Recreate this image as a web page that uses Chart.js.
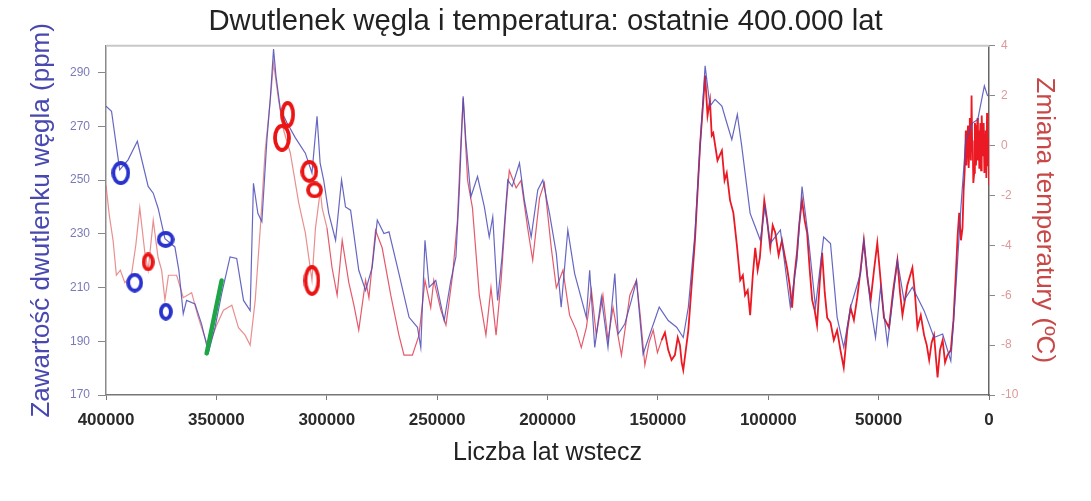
<!DOCTYPE html>
<html lang="pl">
<head>
<meta charset="UTF-8">
<title>Dwutlenek węgla i temperatura</title>
<script src="https://cdn.jsdelivr.net/npm/chart.js"></script>
<style>
  html, body { margin:0; padding:0; background:#fff; }
  #wrap { width:1091px; height:501px; }
</style>
</head>
<body>
<div id="wrap"><canvas id="chart" width="1091" height="501"></canvas></div>
<script>
// --- data (years before present) ---
const xTicks = [400000, 350000, 300000, 250000, 200000, 150000, 100000, 50000, 0];
const ppmTicks = [170, 190, 210, 230, 250, 270, 290];
const tempTicks = [-10, -8, -6, -4, -2, 0, 2, 4];

const co2Years = [400000,397500,393800,390000,385800,380900,378600,376400,373300,368800,367000,365000,363500,359700,356700,353600,350600,347600,343800,340800,337700,334700,333200,331200,329400,327100,325600,324100,323000,321000,318000,314200,309700,306700,304400,303000,301400,299100,296000,293300,291500,289200,285500,282400,279400,277100,274100,271800,267300,262700,258900,257400,255500,253600,250600,246800,243800,241500,240000,238200,237000,234700,231700,228600,226400,224800,222600,220600,218000,216000,212700,210500,207400,204400,202100,199100,196000,193800,190800,187700,182400,180900,178600,175600,172600,169500,168000,165000,162000,159700,156700,153600,149400,145300,141500,138500,136200,133200,130900,128600,126400,124100,121000,118800,116500,114000,112000,108200,105900,103600,101500,99100,94500,90000,87000,84700,81700,78600,74900,71800,68800,65800,62700,58200,56700,53600,51400,49100,46000,41500,38500,34700,29400,24900,21000,17300,15000,12700,10500,7400,5100,2100,600];
const co2Ppm = [277.5,275.6,253.8,257.5,264.4,247.6,245.1,239.5,228.2,225.1,216.4,200.2,205.2,203.9,196.4,185.8,195.2,207.7,221.4,220.8,205.2,201.4,248.8,237.6,234.5,265.0,280.0,298.7,288.7,276.2,271.3,265.7,260.0,252.6,273.7,256.3,250.0,237.6,227.6,250.0,240.0,238.8,216.4,208.9,217.6,235.1,230.1,230.7,215.2,198.9,195.2,187.7,227.6,210.1,212.6,197.7,212.6,221.4,245.1,281.2,265.0,243.8,251.3,240.0,228.8,236.3,205.2,221.4,250.0,247.6,256.3,242.6,228.8,246.3,250.0,237.6,222.6,202.7,231.4,215.2,198.9,216.4,187.7,206.4,187.7,215.2,192.7,196.4,205.2,212.6,185.2,192.7,202.7,197.7,195.2,191.4,202.7,230.1,262.5,292.5,277.5,280.0,277.5,271.3,265.0,274.4,262.5,237.6,232.6,227.6,240.0,226.4,231.4,202.7,220.1,247.6,227.6,202.7,228.8,226.4,198.9,187.7,202.7,215.2,227.6,202.7,191.4,210.1,189.0,220.1,205.2,210.1,201.4,191.4,192.7,182.7,210.1,240.0,265.0,271.3,272.5,285.0,281.2];

const tempYears = [
  400000,398500,396800,395300,393500,391500,388500,386500,384700,382400,
  380900,378600,376400,374800,373300,371700,368000,365000,361200,358500,
  356700,353600,349900,346800,343000,340000,337000,334700,332400,330100,
  327900,325600,324100,321800,319500,316500,312700,309700,306700,305100,
  302900,302100,299900,297600,295300,293000,290000,287700,285500,282400,
  280900,277900,274900,271000,267300,265000,261200,258200,255500,252900,
  251500,248300,246000,243000,240800,239200,238200,236200,234000,230900,
  227900,225600,223300,221000,218800,217300,214200,212000,209000,206700,
  203600,201400,198300,196000,193000,190000,187000,184700,182400,180100,
  177900,174900,172600,170300,166500,162700,159700,158000,155900,154000,
  152100,150200,148300,146800,145300,143800,142300,141000,140000,139200,
  138500,136200,133200,130900,128600,127500,126400,125600,124900,123000,
  121000,119800,118800,117300,115800,114200,112700,111500,110500,109300,
  108200,107000,105900,104800,103800,101800,100500,99100,98000,96800,
  95300,93800,92600,91500,90300,89200,88100,87000,85900,84700,
  83500,82400,81200,80100,79000,77900,76700,75600,74400,73300,
  71800,70300,68800,67300,65800,64200,62700,61200,59700,58200,
  56700,55100,53600,52100,50600,49100,47600,45300,43400,41500,
  40300,39200,37000,34700,33500,32400,30900,29400,28200,27100,
  26000,24900,23300,22200,21000,19900,18800,17300,16100,15000,
  14200,13500,12700,12000,11500,11000,10500,10200,9800,9500,
  9200,9000,8700,8500,8200,7900,7600,7400,7100,6700,
  6400,6200,5900,5500,5200,5000,4700,4400,4100,3900,
  3600,3300,3000,2700,2400,2100,1800,1500,1200,900,
  600,400,200,0];
const tempVals = [
  -1.6,-2.8,-3.8,-5.2,-5.0,-5.5,-5.2,-4.0,-2.5,-4.3,
  -5.0,-3.0,-4.5,-5.0,-6.2,-5.2,-5.2,-6.1,-5.9,-6.8,
  -7.3,-8.1,-7.2,-6.6,-6.4,-7.3,-7.6,-8.0,-6.2,-3.3,
  -0.2,1.8,3.3,1.8,0.6,-0.3,-2.3,-3.5,-5.4,-3.3,
  -1.8,-2.5,-3.3,-4.9,-6.0,-3.8,-5.5,-6.4,-7.4,-5.4,
  -6.1,-3.4,-4.1,-6.0,-7.6,-8.4,-8.4,-7.6,-5.4,-6.5,
  -5.4,-6.6,-7.2,-5.2,-3.0,0.2,1.9,-1.4,-2.5,-6.0,
  -7.6,-5.7,-7.6,-5.4,-2.5,-1.0,-1.7,-1.4,-3.3,-4.6,
  -2.1,-1.5,-4.1,-5.7,-5.0,-6.8,-7.4,-8.1,-7.3,-5.8,
  -7.6,-6.0,-7.8,-6.5,-8.4,-6.0,-5.4,-6.8,-8.8,-7.9,
  -7.4,-8.3,-7.8,-7.5,-8.2,-8.6,-8.4,-7.7,-8.0,-8.7,
  -9.0,-7.4,-3.8,0.0,2.8,1.2,1.8,0.4,0.5,-0.6,
  -0.2,-1.4,-1.1,-2.2,-2.7,-4.0,-5.4,-5.2,-6.0,-5.8,
  -6.8,-5.2,-4.1,-5.0,-4.5,-2.2,-3.0,-4.1,-3.2,-3.5,
  -4.4,-3.8,-4.4,-4.9,-5.6,-6.5,-5.2,-4.3,-3.1,-2.2,
  -3.0,-3.5,-5.0,-6.2,-6.6,-7.2,-5.5,-4.3,-5.9,-6.9,
  -7.1,-7.8,-7.4,-8.2,-8.9,-7.4,-6.5,-7.0,-6.1,-5.0,
  -3.8,-5.3,-6.2,-5.0,-3.9,-5.4,-6.9,-7.3,-5.8,-4.6,
  -5.9,-6.8,-5.6,-4.9,-6.0,-7.3,-6.8,-7.6,-8.0,-8.6,
  -7.9,-7.6,-9.3,-8.2,-7.8,-8.7,-8.4,-8.2,-7.0,-5.1,
  -3.6,-2.7,-3.8,-3.3,-1.8,-1.0,0.6,-0.8,0.4,0.8,
  -0.9,-0.3,1.1,1.0,-0.6,2.0,-0.2,0.2,-1.5,-1.1,
  0.9,0.8,-0.8,0.5,1.1,-0.6,0.6,-0.9,0.3,0.9,
  -1.0,1.2,0.2,-0.4,0.9,-1.1,0.4,0.6,-1.3,1.3,
  -0.2,-0.8,0.3,-1.6];

// hand-drawn marks on the original (year, ppm)
const blueRingYears = [393300, 387000, 373000, 372900];
const blueRingPpm = [252.6, 211.8, 227.9, 201.0];
const redRingYears = [380900, 317700, 320300, 307900, 305500, 306700];
const redRingPpm = [219.5, 274.4, 265.7, 253.2, 246.3, 212.6];
const greenYears = [354400, 347600];
const greenPpm = [185.5, 212.6];

// ring sizes (w, h) in px
const blueRingSize = [[19,24],[17,20],[18,17],[14,18]];
const redRingSize = [[13,19],[15,27],[18,28],[18,23],[17,17],[17,31]];

function ring(w, h, color) {
  const c = document.createElement('canvas');
  c.width = w; c.height = h;
  const g = c.getContext('2d');
  g.strokeStyle = color; g.lineWidth = 3.8;
  g.beginPath();
  g.ellipse(w/2, h/2, w/2 - 2, h/2 - 2, 0, 0, Math.PI*2);
  g.stroke();
  return c;
}

const pts = (xs, ys) => xs.map((x, i) => ({x: x, y: ys[i]}));
const FONT = "'Liberation Sans', Arial, sans-serif";

// light top frame line
const frame = {
  id: 'frame',
  afterDraw(chart) {
    const {ctx, chartArea: a} = chart;
    ctx.save();
    ctx.strokeStyle = '#c8c8c8'; ctx.lineWidth = 2;
    ctx.beginPath(); ctx.moveTo(a.left, a.top); ctx.lineTo(a.right, a.top); ctx.stroke();
    ctx.restore();
  }
};

new Chart(document.getElementById('chart'), {
  type: 'line',
  data: {
    datasets: [
      { label: 'green', data: pts(greenYears, greenPpm), yAxisID: 'y', borderColor: 'rgb(30,165,70)', borderWidth: 4.5, pointRadius: 0, borderCapStyle: 'round', order: 0 },
      { label: 'blueRings', data: pts(blueRingYears, blueRingPpm), yAxisID: 'y', showLine: false, pointRadius: 5,
        pointStyle: blueRingSize.map(s => ring(s[0], s[1], 'rgb(40,50,205)')), order: 0 },
      { label: 'redRings', data: pts(redRingYears, redRingPpm), yAxisID: 'y', showLine: false, pointRadius: 5,
        pointStyle: redRingSize.map(s => ring(s[0], s[1], 'rgb(235,20,20)')), order: 0 },
      { label: 'CO2', data: pts(co2Years, co2Ppm), yAxisID: 'y', borderColor: 'rgba(75,75,185,0.85)', borderWidth: 1.2, pointRadius: 0, order: 1 },
      { label: 'Temp', data: pts(tempYears, tempVals), yAxisID: 'y2', borderWidth: 1.2, pointRadius: 0, order: 2,
        segment: {
          borderColor: c => c.p0.parsed.x > 300000 ? 'rgba(225,105,105,0.75)' : (c.p0.parsed.x > 150000 ? 'rgba(225,60,80,0.85)' : 'rgb(235,25,35)'),
          borderWidth: c => c.p0.parsed.x > 150000 ? 1.2 : 1.8
        } }
    ]
  },
  options: {
    responsive: false,
    animation: false,
    devicePixelRatio: 1,
    layout: { padding: 0 },
    plugins: {
      legend: { display: false },
      tooltip: { enabled: false },
      title: { display: true, text: 'Dwutlenek węgla i temperatura: ostatnie 400.000 lat',
        font: { family: FONT, size: 29.3, weight: 'normal' }, color: '#222', padding: { top: 4.5, bottom: 6 } }
    },
    scales: {
      x: {
        type: 'linear', reverse: true, min: 0, max: 400000,
        afterFit: s => { s.height = 106; },
        afterBuildTicks: s => { s.ticks = xTicks.map(v => ({value: v})); },
        ticks: { callback: v => String(v), font: { family: FONT, size: 17, weight: 'bold' }, color: '#2a2a2a', padding: 10, maxRotation: 0 },
        grid: { drawOnChartArea: false, drawTicks: true, tickLength: 5, color: '#777' },
        border: { color: '#777', width: 1.5 },
        title: { display: true, text: 'Liczba lat wstecz', font: { family: FONT, size: 25 }, color: '#222', padding: { bottom: 33 } }
      },
      y: {
        position: 'left', min: 170, max: 300,
        afterFit: s => { s.width = 106; },
        afterBuildTicks: s => { s.ticks = ppmTicks.map(v => ({value: v})); },
        ticks: { font: { family: FONT, size: 12 }, color: '#7a7ab8', padding: 8 },
        grid: { drawOnChartArea: false, drawTicks: true, tickLength: 8, color: '#888' },
        border: { color: '#8a8a8a', width: 1.5 },
        title: { display: true, text: 'Zawartość dwutlenku węgla (ppm)', font: { family: FONT, size: 26 }, color: '#4848b0', padding: { top: 26 } }
      },
      y2: {
        position: 'right', min: -10, max: 4,
        afterFit: s => { s.width = 102; },
        afterBuildTicks: s => { s.ticks = tempTicks.map(v => ({value: v})); },
        ticks: { font: { family: FONT, size: 12 }, color: '#dc9a9a', padding: 6 },
        grid: { drawOnChartArea: false, drawTicks: true, tickLength: 6, color: '#888' },
        border: { color: '#666', width: 1.5 },
        title: { display: true, text: 'Zmiana temperatury (ºC)', font: { family: FONT, size: 26 }, color: '#c84848', padding: { top: 31 } }
      }
    }
  },
  plugins: [frame]
});
</script>
</body>
</html>
